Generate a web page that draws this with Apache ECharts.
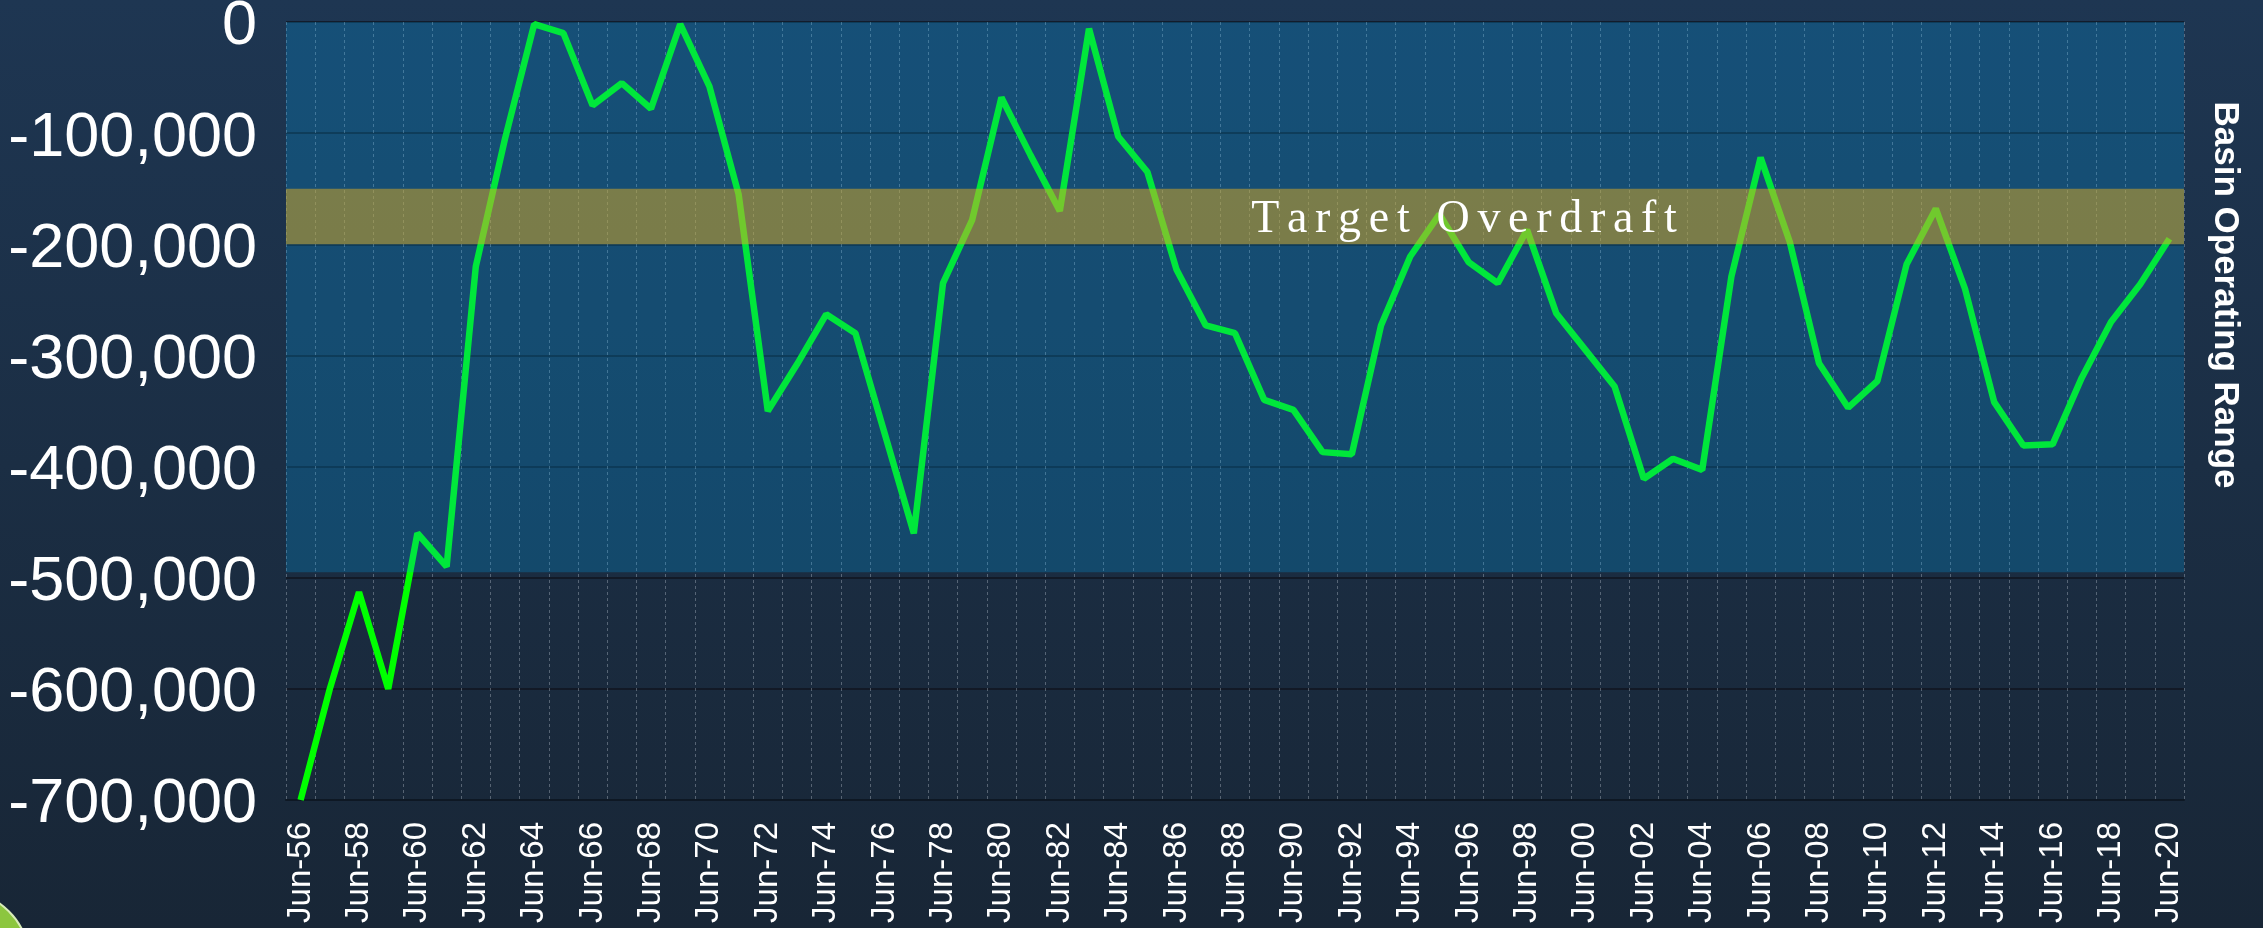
<!DOCTYPE html>
<html>
<head>
<meta charset="utf-8">
<title>Basin Operating Range</title>
<script src="https://cdn.jsdelivr.net/npm/echarts@6/dist/echarts.min.js"></script>
<style>
  html, body { margin: 0; padding: 0; background: #1b2d42; }
  #chart { width: 2263px; height: 928px; }
</style>
</head>
<body>
<div id="chart"></div>
<script>
// categories (one per year, June)
const years = [
  "Jun-56", "Jun-57", "Jun-58", "Jun-59", "Jun-60", "Jun-61", "Jun-62", "Jun-63", "Jun-64", "Jun-65",
  "Jun-66", "Jun-67", "Jun-68", "Jun-69", "Jun-70", "Jun-71", "Jun-72", "Jun-73", "Jun-74", "Jun-75",
  "Jun-76", "Jun-77", "Jun-78", "Jun-79", "Jun-80", "Jun-81", "Jun-82", "Jun-83", "Jun-84", "Jun-85",
  "Jun-86", "Jun-87", "Jun-88", "Jun-89", "Jun-90", "Jun-91", "Jun-92", "Jun-93", "Jun-94", "Jun-95",
  "Jun-96", "Jun-97", "Jun-98", "Jun-99", "Jun-00", "Jun-01", "Jun-02", "Jun-03", "Jun-04", "Jun-05",
  "Jun-06", "Jun-07", "Jun-08", "Jun-09", "Jun-10", "Jun-11", "Jun-12", "Jun-13", "Jun-14", "Jun-15",
  "Jun-16", "Jun-17", "Jun-18", "Jun-19", "Jun-20"
];

// cumulative overdraft values
const overdraft = [
  -700000, -600000, -513000, -600000, -460000, -490000, -220000, -105000, -2000, -10000,
  -75000, -55000, -78000, -2000, -58000, -155000, -350000, -308000, -263000, -280000,
  -370000, -460000, -235000, -178000, -68000, -120000, -170000, -6000, -103000, -135000,
  -223000, -273000, -280000, -340000, -349000, -387000, -389000, -273000, -211000, -173000,
  -216000, -235000, -187000, -262000, -295000, -328000, -411000, -393000, -403000, -229000,
  -122000, -198000, -307000, -347000, -323000, -218000, -168000, -240000, -342000, -381000,
  -380000, -320000, -270000, -236000, -195000
];

// shaded ranges [top, bottom]
const operatingRange = [0, -495000];
const targetRange = [-150000, -200000];

// y axis ticks
const yRange = [-700000, 0];
const yStep = 100000;

// spread-out lettering like the slide
const targetLabel = "Target Overdraft".split("").join("\u200A\u200A");

const chart = echarts.init(document.getElementById("chart"));
const option = {
  animation: false,
  backgroundColor: new echarts.graphic.LinearGradient(0, 0, 0, 1, [
    { offset: 0, color: "#1e3652" },
    { offset: 1, color: "#182636" },
  ]),
  grid: {
    left: 286,
    right: 79,
    top: 22,
    bottom: 128,
    outerBoundsMode: "none",
  },
  xAxis: [
    {
      type: "category",
      data: years,
      boundaryGap: true,
      position: "bottom",
      axisLine: {
        onZero: false,
        lineStyle: { color: "#0e1824", width: 2 },
      },
      axisTick: {
        interval: 0,
        length: 10,
        lineStyle: { color: "#0e1824", width: 1.5 },
      },
      axisLabel: {
        interval: 1,
        rotate: 90,
        margin: 22,
        color: "#ffffff",
        fontSize: 33,
        fontFamily: "Liberation Sans",
      },
      splitLine: {
        show: true,
        interval: 0,
        lineStyle: {
          color: "rgba(200, 210, 220, 0.35)",
          type: [3, 3],
          width: 1,
        },
      },
    },
    {
      // short ticks at the year centres, inside the plot
      type: "category",
      data: years,
      boundaryGap: true,
      position: "bottom",
      axisLine: { show: false, onZero: false },
      axisTick: {
        inside: true,
        alignWithLabel: true,
        interval: 0,
        length: 7,
        lineStyle: { color: "#0e1824", width: 1.5 },
      },
      axisLabel: { show: false },
      splitLine: { show: false },
    },
  ],
  yAxis: {
    type: "value",
    min: yRange[0],
    max: yRange[1],
    interval: yStep,
    axisLine: { show: false },
    axisTick: { show: false },
    axisLabel: {
      color: "#ffffff",
      fontSize: 63,
      fontFamily: "Liberation Sans",
      margin: 29,
      formatter: function (v) {
        return "{v|" + v.toLocaleString("en-US") + "}";
      },
      rich: {
        v: {
          color: "#ffffff",
          fontSize: 63,
          fontFamily: "Liberation Sans",
          padding: [10, 0, 0, 0],
        },
      },
    },
    splitLine: {
      lineStyle: { color: "#10151f", width: 1.5 },
    },
  },
  graphic: [
    {
      type: "text",
      x: 2225,
      y: 295,
      rotation: -Math.PI / 2,
      style: {
        text: "Basin Operating Range",
        fill: "#ffffff",
        font: 'bold 35px "Liberation Sans"',
        align: "center",
        verticalAlign: "middle",
      },
    },
    {
      type: "circle",
      shape: { cx: -40, cy: 960, r: 69 },
      style: { fill: "#8cc63f", stroke: "#d8ecb8", lineWidth: 2 },
    },
  ],
  series: [
    {
      name: "Overdraft",
      type: "line",
      data: overdraft,
      xAxisIndex: 0,
      symbol: "none",
      z: 2,
      lineStyle: {
        color: "#00ff00",
        width: 6.5,
      },
      markArea: {
        silent: true,
        z: 3,
        data: [
          [
            {
              yAxis: operatingRange[0],
              itemStyle: { color: "rgba(0, 161, 235, 0.25)" },
              label: { show: false },
            },
            { yAxis: operatingRange[1] },
          ],
          [
            {
              name: targetLabel,
              yAxis: targetRange[0],
              itemStyle: { color: "rgba(224, 172, 32, 0.5)" },
              label: {
                show: true,
                position: "inside",
                offset: [229, 3],
                color: "#ffffff",
                fontSize: 46,
                fontFamily: "Liberation Serif",
              },
            },
            { yAxis: targetRange[1] },
          ],
        ],
      },
    },
  ],
};
chart.setOption(option);
</script>
</body>
</html>
